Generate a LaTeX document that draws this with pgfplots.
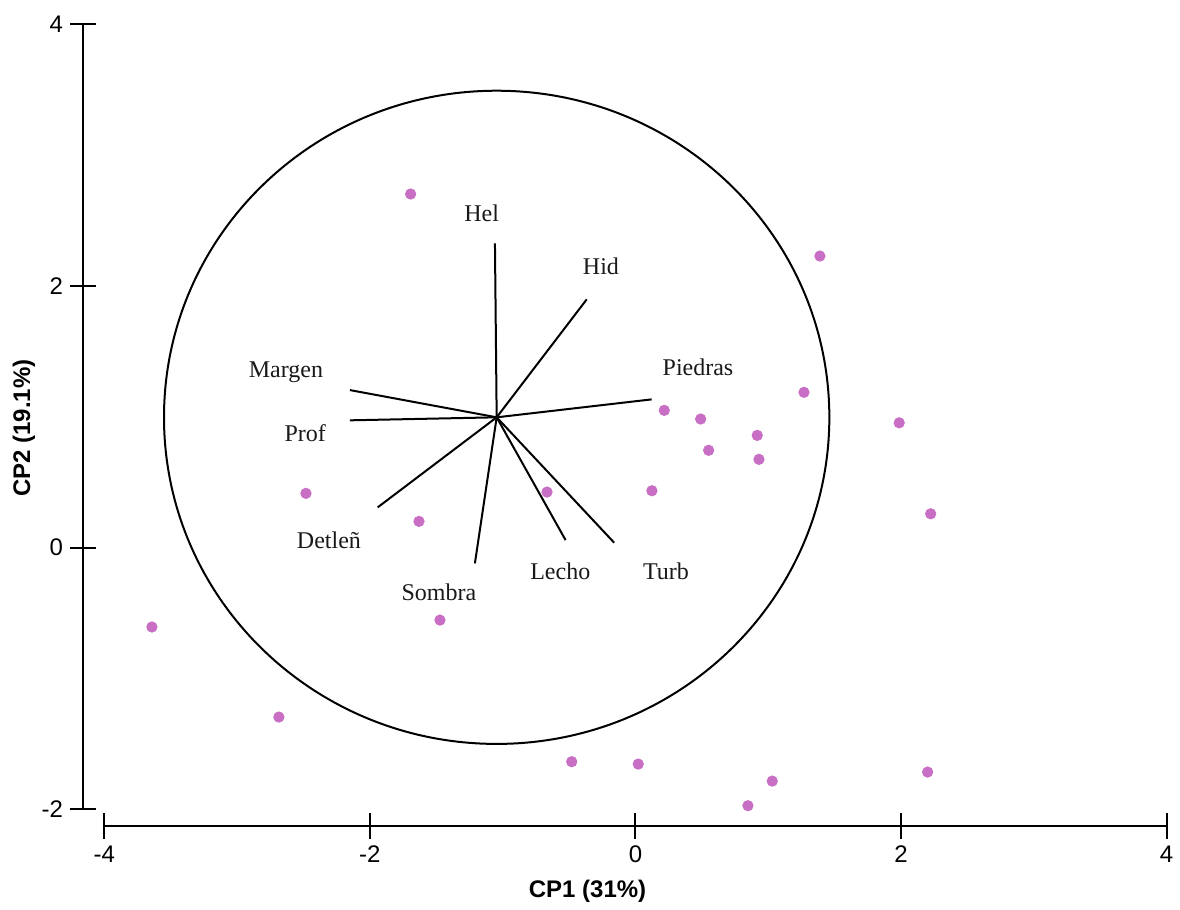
\documentclass[border=0pt]{standalone}
\usepackage{pgfplots}
\pgfplotsset{compat=1.18}
\usepackage{fontspec}
\setmainfont{Liberation Serif}
\newfontfamily\arial{Liberation Sans}
\definecolor{ptpink}{RGB}{200,110,196}

\pgfplotstableread{
x y
-1.693 2.701
1.389 2.227
1.269 1.186
1.986 0.953
0.217 1.048
0.491 0.982
0.917 0.857
0.551 0.743
0.930 0.674
0.124 0.434
2.223 0.258
-0.666 0.424
-2.481 0.414
-1.630 0.200
-1.472 -0.554
-3.641 -0.607
-2.685 -1.295
-0.480 -1.636
0.021 -1.654
1.030 -1.784
2.200 -1.715
0.847 -1.972
}\scores

\pgfplotsset{
  common/.style={
    x=66.4pt, y=65.45pt, anchor=origin, at={(0pt,0pt)},
    tick align=center, major tick length=13pt,
    every tick/.style={black, line width=1pt},
    axis line style={line width=1pt},
    tick label style={font=\arial\fontsize{12}{14}\selectfont},
    /pgf/number format/assume math mode=true,
  }
}

\begin{document}
\begin{tikzpicture}
% x axis
\begin{axis}[common,
  xmin=-4, xmax=4, ymin=-2.128, ymax=4,
  axis x line*=bottom, axis y line=none,
  xtick={-4,-2,0,2,4}, xticklabels={-4,-2,0,2,4},
  xlabel={CP1 (31\%)},
  xlabel style={font=\arial\bfseries\fontsize{12}{14}\selectfont,
    at={(axis description cs:0.4549,-0.0818)}, anchor=center},
]
\end{axis}
% y axis
\begin{axis}[common,
  xmin=-4.16, xmax=4, ymin=-2, ymax=4,
  axis y line*=left, axis x line=none,
  ytick={-2,0,2,4}, yticklabels={-2,0,2,4},
  ylabel={CP2 (19.1\%)},
  ylabel style={font=\arial\bfseries\fontsize{12}{14}\selectfont,
    at={(axis description cs:-0.0544,0.4855)}, anchor=center},
]
\end{axis}
% data
\begin{axis}[common,
  xmin=-4.16, xmax=4, ymin=-2.128, ymax=4,
  hide axis, clip=false,
]
\path (axis cs:-4.785,4.183) rectangle (axis cs:4.100,-2.731);
\draw[line width=1pt] (axis cs:-1.045,0.995) ellipse [x radius=2.505, y radius=2.495];
\addplot[black, line width=1pt] coordinates {(-1.045,0.995) (-1.058,2.324)};
\addplot[black, line width=1pt] coordinates {(-1.045,0.995) (-0.367,1.896)};
\addplot[black, line width=1pt] coordinates {(-1.045,0.995) (0.122,1.132)};
\addplot[black, line width=1pt] coordinates {(-1.045,0.995) (-2.150,1.203)};
\addplot[black, line width=1pt] coordinates {(-1.045,0.995) (-2.150,0.972)};
\addplot[black, line width=1pt] coordinates {(-1.045,0.995) (-1.941,0.307)};
\addplot[black, line width=1pt] coordinates {(-1.045,0.995) (-1.209,-0.121)};
\addplot[black, line width=1pt] coordinates {(-1.045,0.995) (-0.526,0.057)};
\addplot[black, line width=1pt] coordinates {(-1.045,0.995) (-0.160,0.037)};
\addplot[only marks, mark=*, mark size=2.6pt, color=ptpink, mark options={draw=none, fill=ptpink}] table[x=x,y=y] {\scores};
\begin{scope}[every node/.style={font=\fontsize{12}{14}\selectfont, text=black!90, inner sep=0pt}]
\node at (axis cs:-1.158,2.553) {Hel};
\node at (axis cs:-0.260,2.150) {Hid};
\node at (axis cs:0.471,1.379) {Piedras};
\node at (axis cs:-2.632,1.338) {Margen};
\node at (axis cs:-2.486,0.872) {Prof};
\node at (axis cs:-2.308,0.057) {Detleñ};
\node at (axis cs:-1.480,-0.342) {Sombra};
\node at (axis cs:-0.566,-0.185) {Lecho};
\node at (axis cs:0.230,-0.185) {Turb};
\end{scope}
\end{axis}
\end{tikzpicture}
\end{document}
